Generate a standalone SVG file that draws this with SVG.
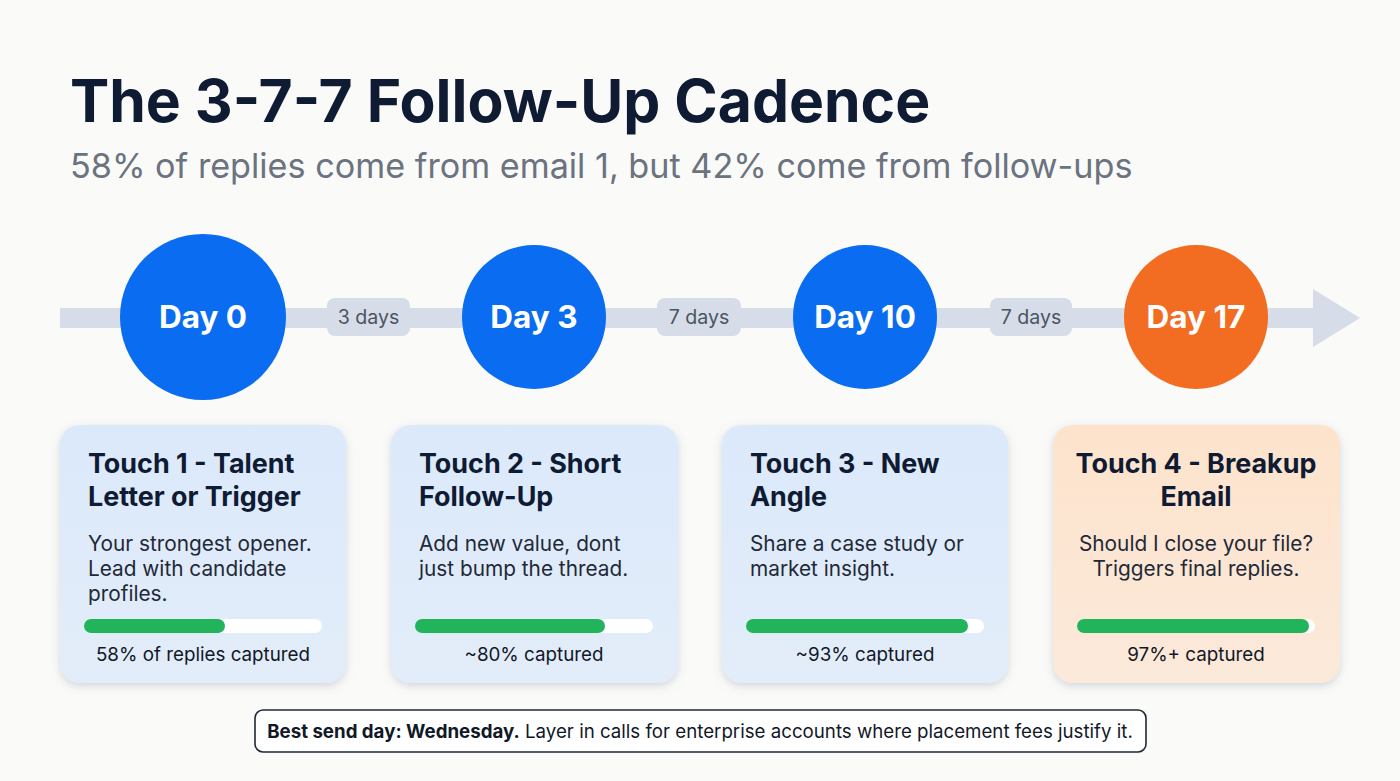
<svg xmlns="http://www.w3.org/2000/svg" width="1400" height="781" viewBox="0 0 1400 781">
<defs>
<style>
.title{font-family:Inter,"Liberation Sans",sans-serif;font-weight:700;font-size:58.8px;fill:#0f1a33}
.sub{font-family:Inter,"Liberation Sans",sans-serif;font-size:34.2px;fill:#6b7280}
.day{font-family:Inter,"Liberation Sans",sans-serif;font-weight:700;font-size:31.5px;fill:#ffffff}
.pilltxt{font-family:Inter,"Liberation Sans",sans-serif;font-size:19.6px;fill:#4b5563}
.pill{fill:#d6dde8}
.ct{font-family:Inter,"Liberation Sans",sans-serif;font-weight:700;font-size:26.9px;fill:#0f1a33}
.cb{font-family:Inter,"Liberation Sans",sans-serif;font-size:20.8px;fill:#1f2937}
.cap{font-family:Inter,"Liberation Sans",sans-serif;font-size:18.8px;fill:#111827}
.track{fill:#ffffff}
.fill{fill:#21b45b}
.note{font-family:Inter,"Liberation Sans",sans-serif;font-size:18.7px;fill:#111827}
</style>
<linearGradient id="gb" x1="0" y1="0" x2="0" y2="1"><stop offset="0" stop-color="#dbe9fb"/><stop offset="1" stop-color="#e3edf9"/></linearGradient>
<linearGradient id="go" x1="0" y1="0" x2="0" y2="1"><stop offset="0" stop-color="#fde3cc"/><stop offset="1" stop-color="#fbe9da"/></linearGradient>
<filter id="sh" x="-10%" y="-10%" width="120%" height="125%"><feDropShadow dx="0" dy="3" stdDeviation="4" flood-color="#6b7a90" flood-opacity="0.28"/></filter>
</defs>
<rect width="1400" height="781" fill="#fafaf8"/>
<text class="title" x="70" y="122">The 3-7-7 Follow-Up Cadence</text>
<text class="sub" x="70" y="178">58% of replies come from email 1, but 42% come from follow-ups</text>

<g id="connectors">
<rect x="60" y="308" width="1256" height="20" fill="#d6dde8"/>
<polygon points="1313,289 1360,318 1313,347" fill="#d6dde8"/>
<g id="gap1"><rect class="pill" x="327" y="298" width="83" height="38" rx="8"/><text class="pilltxt" x="368.5" y="324" text-anchor="middle">3 days</text></g>
<g id="gap2"><rect class="pill" x="657" y="298" width="84" height="38" rx="8"/><text class="pilltxt" x="699" y="324" text-anchor="middle">7 days</text></g>
<g id="gap3"><rect class="pill" x="990" y="298" width="82" height="38" rx="8"/><text class="pilltxt" x="1031" y="324" text-anchor="middle">7 days</text></g>
</g>

<g id="day0"><circle cx="203" cy="317" r="83" fill="#0a6cf0"/><text class="day" x="203" y="328" text-anchor="middle">Day 0</text></g>
<g id="day3"><circle cx="534" cy="317" r="72" fill="#0a6cf0"/><text class="day" x="534" y="328" text-anchor="middle">Day 3</text></g>
<g id="day10"><circle cx="865" cy="317" r="72" fill="#0a6cf0"/><text class="day" x="865" y="328" text-anchor="middle">Day 10</text></g>
<g id="day17"><circle cx="1196" cy="317" r="72" fill="#f26d21"/><text class="day" x="1196" y="328" text-anchor="middle">Day 17</text></g>

<g id="touch1">
<rect x="60" y="425" width="286" height="258" rx="20" fill="url(#gb)" filter="url(#sh)"/>
<text class="ct" x="88" y="473">Touch 1 - Talent</text>
<text class="ct" x="88" y="506">Letter or Trigger</text>
<text class="cb" x="88" y="551">Your strongest opener.</text>
<text class="cb" x="88" y="576">Lead with candidate</text>
<text class="cb" x="88" y="601">profiles.</text>
<rect class="track" x="84" y="619" width="238" height="14" rx="7"/>
<rect class="fill" x="84" y="619" width="141" height="14" rx="7"/>
<text class="cap" x="203" y="661" text-anchor="middle">58% of replies captured</text>
</g>
<g id="touch2">
<rect x="391" y="425" width="287" height="258" rx="20" fill="url(#gb)" filter="url(#sh)"/>
<text class="ct" x="419" y="473">Touch 2 - Short</text>
<text class="ct" x="419" y="506">Follow-Up</text>
<text class="cb" x="419" y="551">Add new value, dont</text>
<text class="cb" x="419" y="576">just bump the thread.</text>
<rect class="track" x="415" y="619" width="238" height="14" rx="7"/>
<rect class="fill" x="415" y="619" width="190" height="14" rx="7"/>
<text class="cap" x="534" y="661" text-anchor="middle">~80% captured</text>
</g>
<g id="touch3">
<rect x="722" y="425" width="286" height="258" rx="20" fill="url(#gb)" filter="url(#sh)"/>
<text class="ct" x="750" y="473">Touch 3 - New</text>
<text class="ct" x="750" y="506">Angle</text>
<text class="cb" x="750" y="551">Share a case study or</text>
<text class="cb" x="750" y="576">market insight.</text>
<rect class="track" x="746" y="619" width="238" height="14" rx="7"/>
<rect class="fill" x="746" y="619" width="222" height="14" rx="7"/>
<text class="cap" x="865" y="661" text-anchor="middle">~93% captured</text>
</g>
<g id="touch4">
<rect x="1053" y="425" width="287" height="258" rx="20" fill="url(#go)" filter="url(#sh)"/>
<text class="ct" x="1196" y="473" text-anchor="middle">Touch 4 - Breakup</text>
<text class="ct" x="1196" y="506" text-anchor="middle">Email</text>
<text class="cb" x="1196" y="551" text-anchor="middle">Should I close your file?</text>
<text class="cb" x="1196" y="576" text-anchor="middle">Triggers final replies.</text>
<rect class="track" x="1077" y="619" width="238" height="14" rx="7"/>
<rect class="fill" x="1077" y="619" width="232" height="14" rx="7"/>
<text class="cap" x="1196" y="661" text-anchor="middle">97%+ captured</text>
</g>

<g id="note">
<rect x="255" y="710" width="891" height="42" rx="8" fill="#ffffff" stroke="#1f2937" stroke-width="1.6"/>
<text class="note" x="700" y="738" text-anchor="middle"><tspan font-weight="700">Best send day: Wednesday.</tspan> Layer in calls for enterprise accounts where placement fees justify it.</text>
</g>
</svg>
